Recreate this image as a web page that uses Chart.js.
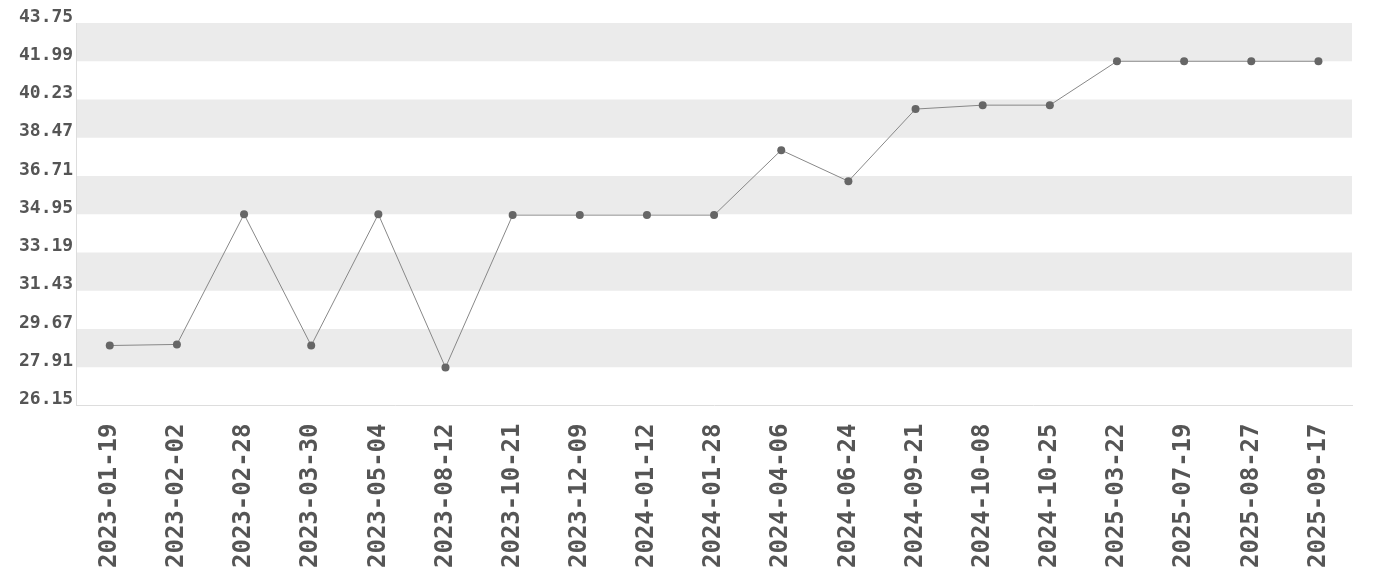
<!DOCTYPE html>
<html>
<head>
<meta charset="utf-8">
<script src="https://cdn.jsdelivr.net/npm/chart.js@4"></script>
<style>
  html, body { margin: 0; padding: 0; background: #fff; }
  #wrap { width: 1380px; height: 580px; }
</style>
</head>
<body>
<div id="wrap"><canvas id="priceChart"></canvas></div>
<script>
// values
const dates = ['2023-01-19', '2023-02-02', '2023-02-28', '2023-03-30', '2023-05-04', '2023-08-12',
    '2023-10-21', '2023-12-09', '2024-01-12', '2024-01-28', '2024-04-06', '2024-06-24',
    '2024-09-21', '2024-10-08', '2024-10-25', '2025-03-22', '2025-07-19', '2025-08-27', '2025-09-17'];
const prices = [28.91, 28.96, 34.95, 28.91, 34.95, 27.9,
    34.91, 34.91, 34.91, 34.91, 37.9, 36.47,
    39.79, 39.97, 39.97, 41.99, 41.99, 41.99, 41.99];
const yTicks = [26.15, 27.91, 29.67, 31.43, 33.19, 34.95, 36.71, 38.47, 40.23, 41.99, 43.75];

const textColor = '#555';
const monoFont = "'DejaVu Sans Mono', monospace";

// grey bands between every other pair of ticks, starting at the top
const bandPlugin = {
    id: 'bands',
    beforeDraw(chart) {
        const ctx = chart.ctx;
        const area = chart.chartArea;
        const y = chart.scales.y;
        ctx.save();
        ctx.fillStyle = '#ebebeb';
        for (let i = yTicks.length - 1; i > 0; i -= 2) {
            const top = y.getPixelForValue(yTicks[i]);
            const bottom = y.getPixelForValue(yTicks[i - 1]);
            ctx.fillRect(area.left, top, area.right - area.left, bottom - top);
        }
        ctx.restore();
    }
};

const ctx = document.getElementById('priceChart').getContext('2d');
new Chart(ctx, {
    type: 'line',
    data: {
        labels: dates,
        datasets: [{
            data: prices,
            borderColor: '#888',
            borderWidth: 1,
            pointRadius: 4,
            pointBackgroundColor: '#666',
            pointBorderColor: '#666',
            pointBorderWidth: 0,
            tension: 0,
            fill: false
        }]
    },
    options: {
        responsive: true,
        maintainAspectRatio: false,
        animation: false,
        layout: { padding: { top: 23, right: 28, bottom: 0, left: 16 } },
        plugins: {
            legend: { display: false },
            tooltip: { enabled: false }
        },
        scales: {
            x: {
                offset: true,
                grid: { display: false, drawTicks: false },
                border: { display: true, color: '#ddd' },
                afterFit(scale) {
                    scale.height -= 6;
                },
                ticks: {
                    color: textColor,
                    font: { family: monoFont, size: 24, weight: 'bold' },
                    minRotation: 90,
                    maxRotation: 90,
                    autoSkip: false,
                    padding: 18
                }
            },
            y: {
                min: yTicks[0],
                max: yTicks[yTicks.length - 1],
                afterBuildTicks(scale) {
                    scale.ticks = yTicks.map(v => ({ value: v }));
                },
                grid: { display: false, drawTicks: false },
                border: { display: true, color: '#ddd' },
                ticks: {
                    color: textColor,
                    font: { family: monoFont, size: 18, weight: 'bold' },
                    padding: 3,
                    labelOffset: -6,
                    callback: v => v.toFixed(2)
                }
            }
        }
    },
    plugins: [bandPlugin]
});
</script>
</body>
</html>
